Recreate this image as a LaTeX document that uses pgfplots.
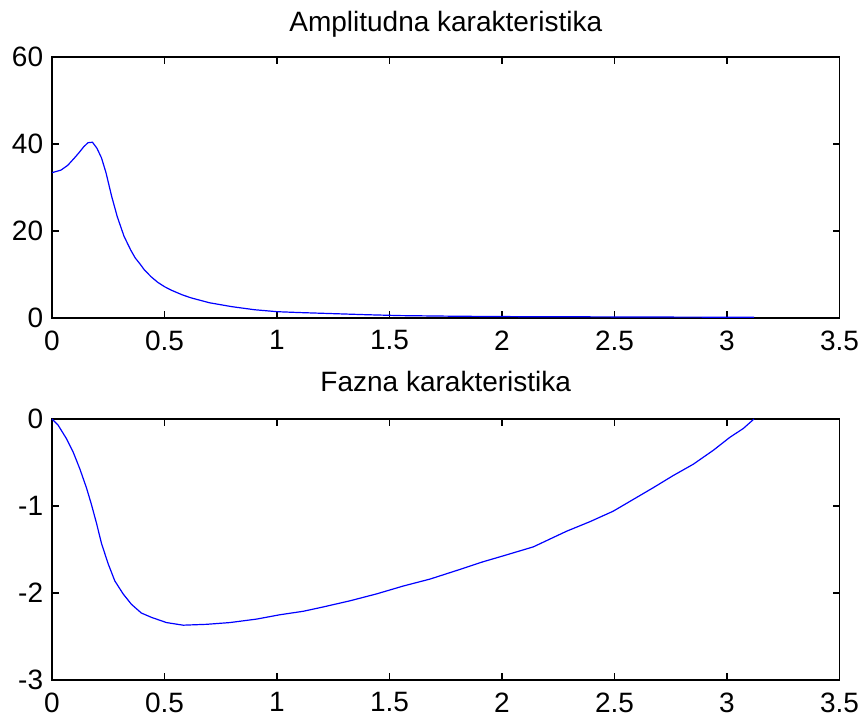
\documentclass[border=0pt]{standalone}
\usepackage{fontspec}
\setmainfont{Liberation Sans}
\usepackage{pgfplots}
\pgfplotsset{compat=1.18}
\pgfplotsset{
  mlstyle/.style={
    scale only axis, width=787.5bp, height=261bp,
    xmin=0, xmax=3.5, xtick={0,0.5,1,1.5,2,2.5,3,3.5},
    axis line style={line width=1.2bp, black},
    major tick length=7bp,
    tick style={black, line width=1.2bp},
    /pgf/number format/assume math mode=true,
    every tick label/.append style={font=\fontsize{28bp}{32bp}\selectfont},
    xticklabel style={inner sep=0pt, yshift=-12.5bp},
    yticklabel style={inner sep=0pt, xshift=-8.7bp},
    title style={font=\fontsize{28bp}{32bp}\selectfont, at={(0.5,1)}, anchor=base, inner sep=0pt},
  }
}
\begin{document}
\begin{tikzpicture}
\path[use as bounding box] (-52bp,-33bp) rectangle (807bp,680bp);
\begin{axis}[mlstyle, at={(0,362bp)}, ymin=0, ymax=60, ytick={0,20,40,60},
  title={Amplitudna karakteristika}, title style={yshift=20bp}]
\addplot[blue, line width=1.2bp, no marks] coordinates {
(0,33.4) (0.04,34.0) (0.07,35.1) (0.10,36.8) (0.12,38.0) (0.14,39.3) (0.16,40.3)
(0.18,40.4) (0.20,39.0) (0.22,36.8) (0.24,33.4) (0.265,28.0) (0.29,23.3) (0.32,18.8)
(0.35,15.6) (0.37,13.8) (0.39,12.5) (0.41,11.1) (0.44,9.5) (0.47,8.2) (0.50,7.2)
(0.53,6.4) (0.58,5.3) (0.62,4.6) (0.70,3.5) (0.80,2.6) (0.90,1.9) (1.00,1.45)
(1.10,1.25) (1.25,1.0) (1.40,0.75) (1.55,0.55) (1.80,0.4) (2.10,0.3) (2.50,0.25)
(2.80,0.2) (3.12,0.18)
};
\end{axis}
\begin{axis}[mlstyle, at={(0,0)}, ymin=-3, ymax=0, ytick={-3,-2,-1,0},
  title={Fazna karakteristika}, title style={yshift=22bp}]
\addplot[blue, line width=1.2bp, no marks] coordinates {
(0,0) (0.027,-0.07) (0.064,-0.225) (0.094,-0.38) (0.124,-0.575) (0.153,-0.79)
(0.175,-0.98) (0.198,-1.20) (0.22,-1.43) (0.249,-1.66) (0.279,-1.86) (0.316,-2.01)
(0.353,-2.13) (0.397,-2.23) (0.442,-2.28) (0.509,-2.34) (0.583,-2.37) (0.687,-2.36)
(0.79,-2.34) (0.909,-2.30) (1.013,-2.25) (1.117,-2.21) (1.206,-2.16) (1.324,-2.09)
(1.443,-2.01) (1.561,-1.92) (1.68,-1.84) (1.80,-1.74) (1.917,-1.64) (1.99,-1.585)
(2.139,-1.47) (2.287,-1.29) (2.391,-1.18) (2.494,-1.06) (2.583,-0.925) (2.672,-0.79)
(2.761,-0.65) (2.85,-0.52) (2.939,-0.36) (3.013,-0.21) (3.072,-0.11) (3.12,0)
};
\end{axis}
\end{tikzpicture}
\end{document}
